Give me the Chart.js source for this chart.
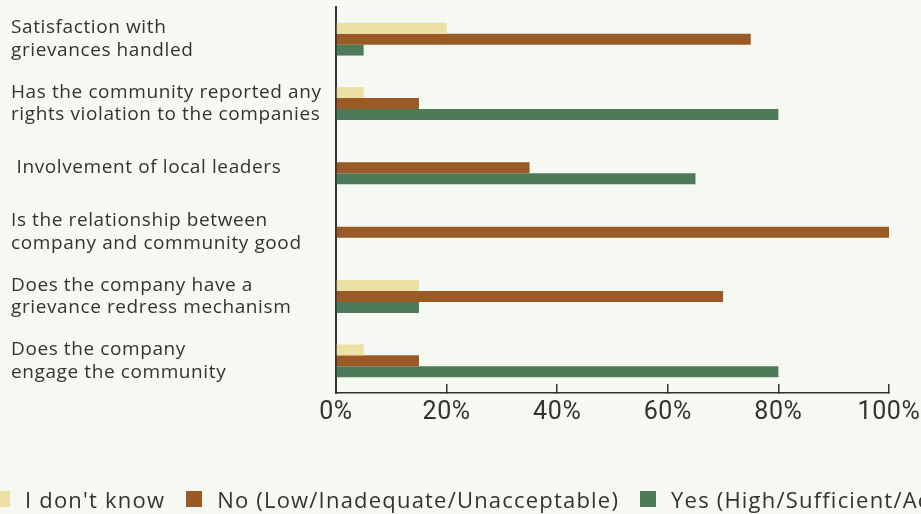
<!DOCTYPE html>
<html>
<head>
<meta charset="utf-8">
<script src="https://cdn.jsdelivr.net/npm/chart.js@4.4.1/dist/chart.umd.min.js"></script>
<style>
  html, body { margin: 0; padding: 0; background: #f6f8f2; overflow: hidden; }
  #wrap { position: relative; width: 921px; height: 514px; overflow: hidden; }
  #c { position: absolute; left: 0; top: 0; }
  #legend {
    position: absolute; left: -6px; top: 486px; white-space: nowrap;
    font-family: "Open Sans", sans-serif; font-size: 22px; letter-spacing: 1.2px;
    color: #333; line-height: 24px;
  }
  #legend .item { display: inline-flex; align-items: center; margin-right: 21px; }
  #legend .box { width: 16px; height: 16px; margin-right: 15px; flex: none; }
</style>
</head>
<body>
<div id="wrap">
  <canvas id="c" width="921" height="514"></canvas>
  <div id="legend"></div>
</div>
<script>
// Survey questions (y categories)
const categories = [
  ["Satisfaction with", "grievances handled"],
  ["Has the community reported any", "rights violation to the companies"],
  " Involvement of local leaders",
  ["Is the relationship between", "company and community good"],
  ["Does the company have a", "grievance redress mechanism"],
  ["Does the company", "engage the community"]
];

// Share of responses (%)
const dontKnow = [20, 5, 0, 0, 15, 5];
const noLow    = [75, 15, 35, 100, 70, 15];
const yesHigh  = [5, 80, 65, 0, 15, 80];

const seriesNames = [
  "I don't know",
  "No (Low/Inadequate/Unacceptable)",
  "Yes (High/Sufficient/Acceptable)"
];
const seriesColors = ["#ede0a5", "#9a5a25", "#4d7b5a"];

// X axis tick values (%)
const xTicks = [0, 20, 40, 60, 80, 100];

const ink = "#333333";

const barStyle = { borderWidth: 0, categoryPercentage: 0.51, barPercentage: 1.0 };

// Slightly wider letter spacing for the question labels
const spacing = {
  id: "labelSpacing",
  beforeDraw(chart) { chart.ctx.letterSpacing = "0.6px"; },
  afterDraw(chart) { chart.ctx.letterSpacing = "0px"; }
};

const chart = new Chart(document.getElementById("c"), {
  type: "bar",
  data: {
    labels: categories,
    datasets: [
      { label: seriesNames[0], data: dontKnow, backgroundColor: seriesColors[0], ...barStyle },
      { label: seriesNames[1], data: noLow,    backgroundColor: seriesColors[1], ...barStyle },
      { label: seriesNames[2], data: yesHigh,  backgroundColor: seriesColors[2], ...barStyle }
    ]
  },
  plugins: [spacing],
  options: {
    indexAxis: "y",
    responsive: false,
    animation: false,
    devicePixelRatio: 1,
    layout: { padding: { left: 11, right: 32, top: 7, bottom: 0 } },
    plugins: {
      legend: { display: false },
      tooltip: { enabled: false }
    },
    scales: {
      x: {
        min: 0,
        max: 100,
        afterBuildTicks: (scale) => { scale.ticks = xTicks.map(v => ({ value: v })); },
        ticks: {
          callback: (v) => v + "%",
          color: ink,
          font: { family: "Roboto", size: 25 },
          padding: 14,
          maxRotation: 0,
          autoSkip: false
        },
        grid: { drawOnChartArea: false, drawTicks: true, tickLength: -9, color: ink, lineWidth: 1.5 },
        border: { color: ink, width: 1.5 },
        afterFit: (scale) => {
          scale.height = 121;
          scale.paddingLeft = 0;
          scale.paddingRight = 0;
        }
      },
      y: {
        ticks: {
          crossAlign: "far",
          color: ink,
          font: { family: "Open Sans", size: 19, lineHeight: 1.2 },
          padding: 0,
          autoSkip: false
        },
        grid: { display: false, drawTicks: false },
        border: { color: ink, width: 2 },
        afterFit: (scale) => {
          scale.width = 325;
          scale.paddingTop = 0;
          scale.paddingBottom = 0;
        }
      }
    }
  }
});

// Legend row built from the chart's datasets
const legend = document.getElementById("legend");
chart.data.datasets.forEach(ds => {
  const item = document.createElement("span");
  item.className = "item";
  const box = document.createElement("span");
  box.className = "box";
  box.style.background = ds.backgroundColor;
  const txt = document.createElement("span");
  txt.textContent = ds.label;
  item.appendChild(box);
  item.appendChild(txt);
  legend.appendChild(item);
});
</script>
</body>
</html>
